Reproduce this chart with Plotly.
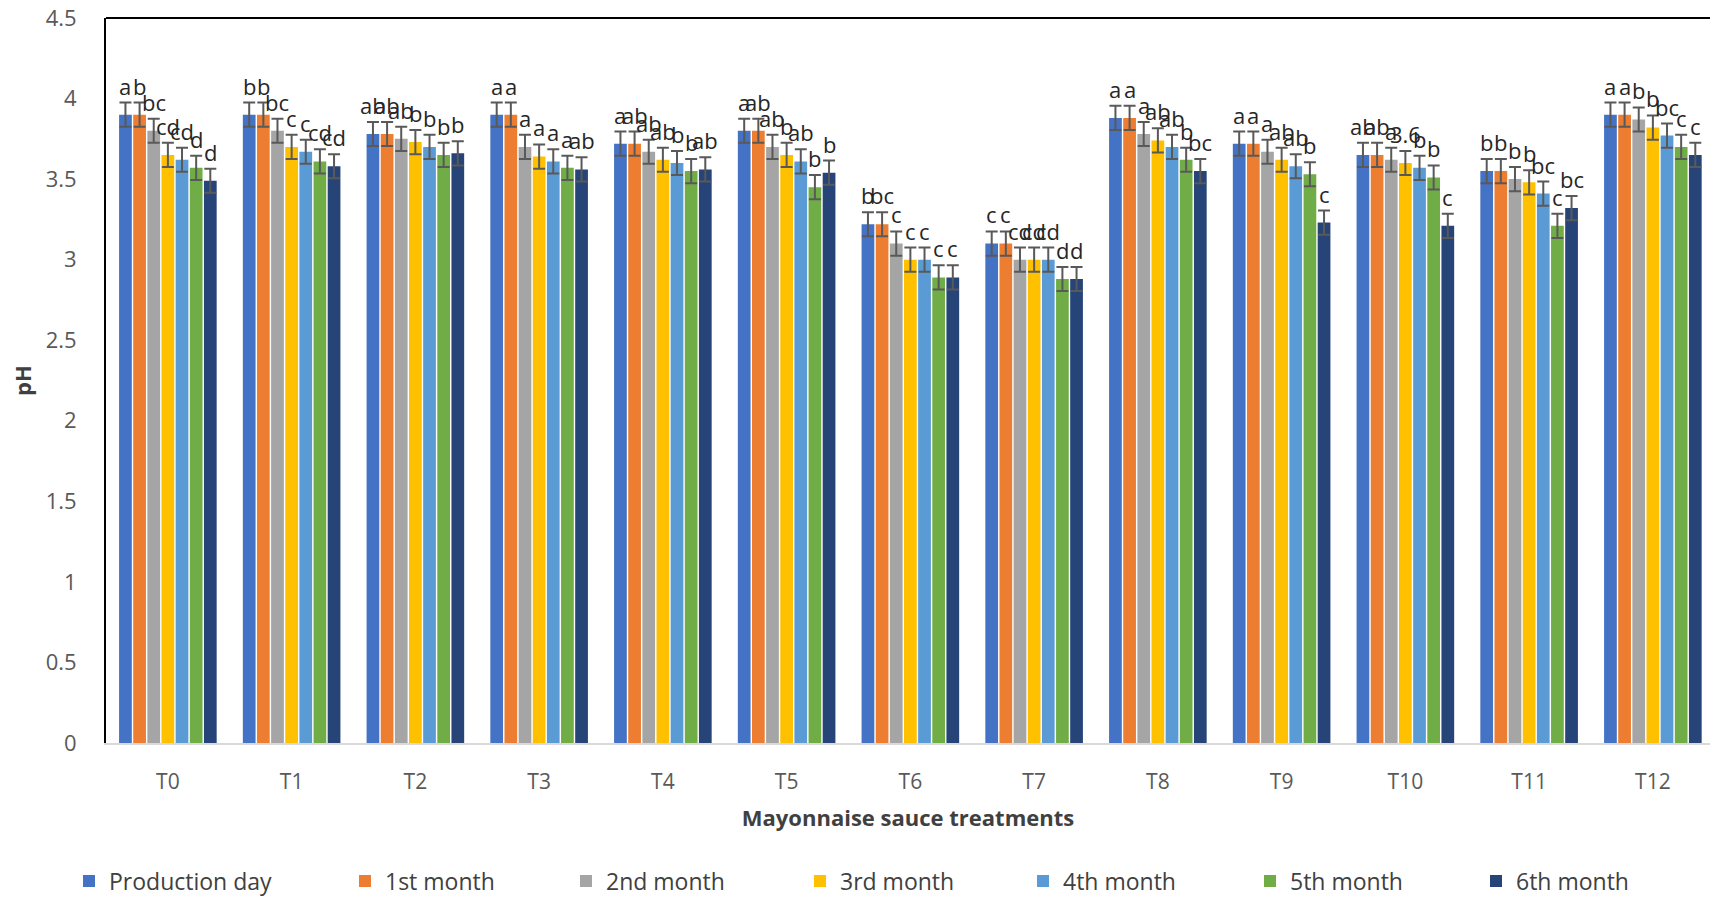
import plotly.graph_objects as go

treatments = ["T0", "T1", "T2", "T3", "T4", "T5", "T6", "T7", "T8", "T9", "T10", "T11", "T12"]
series_names = ["Production day", "1st month", "2nd month", "3rd month", "4th month", "5th month", "6th month"]
colors = ["#4472C4", "#ED7D31", "#A5A5A5", "#FFC000", "#5B9BD5", "#70AD47", "#264478"]

production_day = [3.90, 3.90, 3.78, 3.90, 3.72, 3.80, 3.22, 3.10, 3.88, 3.72, 3.65, 3.55, 3.90]
month_1 = [3.90, 3.90, 3.78, 3.90, 3.72, 3.80, 3.22, 3.10, 3.88, 3.72, 3.65, 3.55, 3.90]
month_2 = [3.80, 3.80, 3.75, 3.70, 3.67, 3.70, 3.10, 3.00, 3.78, 3.67, 3.62, 3.50, 3.87]
month_3 = [3.65, 3.70, 3.73, 3.64, 3.62, 3.65, 3.00, 3.00, 3.74, 3.62, 3.60, 3.48, 3.82]
month_4 = [3.62, 3.67, 3.70, 3.61, 3.60, 3.61, 3.00, 3.00, 3.70, 3.58, 3.57, 3.41, 3.77]
month_5 = [3.57, 3.61, 3.65, 3.57, 3.55, 3.45, 2.89, 2.88, 3.62, 3.53, 3.51, 3.21, 3.70]
month_6 = [3.49, 3.58, 3.66, 3.56, 3.56, 3.54, 2.89, 2.88, 3.55, 3.23, 3.21, 3.32, 3.65]

error_pd = [0.075] * 13
error_m1 = [0.075] * 13
error_m2 = [0.075] * 13
error_m3 = [0.075] * 13
error_m4 = [0.075] * 13
error_m5 = [0.075] * 13
error_m6 = [0.075] * 13

letters_pd = ["a", "b", "ab", "a", "a", "a", "b", "c", "a", "a", "ab", "b", "a"]
letters_m1 = ["b", "b", "ab", "a", "ab", "ab", "bc", "c", "a", "a", "ab", "b", "a"]
letters_m2 = ["bc", "bc", "ab", "a", "ab", "ab", "c", "cd", "a", "a", "a", "b", "b"]
letters_m3 = ["cd", "c", "b", "a", "ab", "b", "c", "cd", "ab", "ab", "3.6", "b", "b"]
letters_m4 = ["cd", "c", "b", "a", "b", "ab", "c", "cd", "ab", "ab", "b", "bc", "bc"]
letters_m5 = ["d", "cd", "b", "a", "b", "b", "c", "d", "b", "b", "b", "c", "c"]
letters_m6 = ["d", "cd", "b", "ab", "ab", "b", "c", "d", "bc", "c", "c", "bc", "c"]

values = [production_day, month_1, month_2, month_3, month_4, month_5, month_6]
errors = [error_pd, error_m1, error_m2, error_m3, error_m4, error_m5, error_m6]
letters = [letters_pd, letters_m1, letters_m2, letters_m3, letters_m4, letters_m5, letters_m6]

FONT = "Open Sans"
W, H = 1710, 897
ML, MR, MT, MB = 106, 0, 18, 154
BARGAP, GROUPGAP = 0.2, 0.1

fig = go.Figure()
legend_centers = [89, 365, 586, 820, 1043, 1270, 1496]

for k, (name, col, vals, errs) in enumerate(zip(series_names, colors, values, errors)):
    lname = "legend" if k == 0 else f"legend{k+1}"
    fig.add_trace(go.Bar(
        name=name, x=treatments, y=vals, marker_color=col,
        marker_line_width=0, showlegend=True,
        error_y=dict(type="data", array=errs, visible=True, color="#595959", thickness=2, width=6),
        legend=lname,
    ))

n = len(series_names)
slot = (1 - BARGAP) / n
annotations = []
for k in range(n):
    off = -(1 - BARGAP) / 2 + (k + 0.5) * slot
    for i, t in enumerate(treatments):
        annotations.append(dict(
            x=i + off, y=values[k][i] + errors[k][i], xref="x", yref="y",
            text=letters[k][i], showarrow=False, yanchor="bottom", xanchor="center",
            yshift=0, font=dict(family=FONT, size=22, color="#262626"),
        ))

legend_layouts = {}
for k in range(n):
    lname = "legend" if k == 0 else f"legend{k+1}"
    legend_layouts[lname] = dict(
        xref="container", yref="container",
        x=(legend_centers[k] - 20) / W, xanchor="left",
        y=(H - 881) / H, yanchor="middle",
        orientation="h", font=dict(family=FONT, size=23, color="#404040"),
        bgcolor="rgba(0,0,0,0)", itemwidth=30, tracegroupgap=0,
    )

fig.update_layout(
    width=W, height=H, showlegend=True,
    margin=dict(l=ML, r=MR, t=MT, b=MB, pad=0, autoexpand=False),
    paper_bgcolor="white", plot_bgcolor="white",
    barmode="group", bargap=BARGAP, bargroupgap=GROUPGAP,
    font=dict(family=FONT, color="#595959"),
    annotations=annotations,
    **legend_layouts,
    xaxis=dict(
        range=[-0.5, 12.5 - (ML + 13 * 123.75 - W) / 123.75],
        showline=True, linecolor="#D9D9D9", linewidth=2,
        showgrid=False, ticks="", ticklabelstandoff=19,
        tickfont=dict(family=FONT, size=21, color="#595959"),
        title=dict(text="<b>Mayonnaise sauce treatments</b>", standoff=16,
                   font=dict(family=FONT, size=22, color="#404040")),
    ),
    yaxis=dict(
        range=[0, 4.5], dtick=0.5, tick0=0,
        showline=True, linecolor="black", linewidth=2,
        showgrid=False, ticks="", ticklabelstandoff=23, zeroline=False,
        tickfont=dict(family=FONT, size=22, color="#595959"),
        title=dict(text="<b>pH</b>", standoff=8,
                   font=dict(family=FONT, size=22, color="#404040")),
    ),
    shapes=[dict(type="line", xref="paper", yref="paper", x0=0, x1=1, y0=1, y1=1,
                 line=dict(color="black", width=2))],
)

fig.write_html("out.html", config={"displayModeBar": False},
               post_script="document.body.style.margin='0';")
